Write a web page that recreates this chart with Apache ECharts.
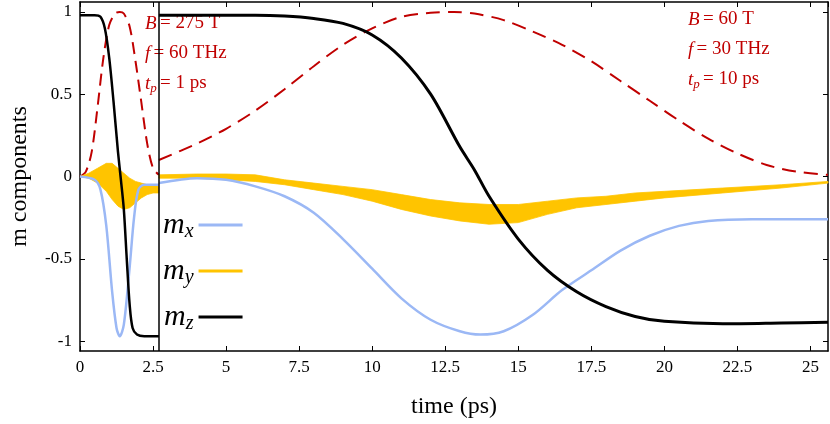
<!DOCTYPE html>
<html><head><meta charset="utf-8">
<script src="https://cdn.jsdelivr.net/npm/echarts@6/dist/echarts.min.js"></script>
<style>html,body{margin:0;padding:0;background:#fff}#c{width:830px;height:424px}</style>
</head><body><div id="c"></div>
<script>
// main run (B = 60 T), shown for t >= 2.7 ps
var mainT   = [2.7,4,5,6,7,8,9,10,11,12,12.8,13.5,14.5,15.5,16.5,17.5,18.5,19.5,20.5,21.5,22.5,23.5,24.5,25.6]
var mainPulse=[0.1,0.2,0.29,0.4,0.53,0.67,0.8,0.9,0.97,0.995,1.0,0.99,0.95,0.88,0.8,0.7,0.58,0.46,0.34,0.23,0.14,0.07,0.03,0.01]
var mxT = [2.7,4,5,6,7,8,9,10,11,12,13,13.7,14.5,15.5,16.5,17.5,18.5,19.5,20.5,21.5,23,25.6]
var mxV = [-0.04,-0.01,-0.02,-0.06,-0.12,-0.22,-0.38,-0.56,-0.74,-0.87,-0.94,-0.96,-0.94,-0.84,-0.69,-0.57,-0.45,-0.36,-0.3,-0.27,-0.26,-0.26]
var mzT = [2.7,6,7,8,9,10,11,12,13,13.5,14,15,16,17,18,19,20,22,24,25.6]
var mzV = [0.98,0.98,0.975,0.96,0.93,0.86,0.72,0.5,0.18,0.04,-0.12,-0.38,-0.57,-0.7,-0.79,-0.85,-0.88,-0.895,-0.89,-0.885]
var myT  = [2.7,4,5,6,7,8,9,10,11,12,13,14,15,16,17,18,19,20,22,24,25.6]
var myLo = [-0.01,-0.01,-0.02,-0.03,-0.05,-0.08,-0.11,-0.15,-0.2,-0.24,-0.27,-0.29,-0.28,-0.23,-0.19,-0.17,-0.15,-0.13,-0.1,-0.07,-0.04]
var myHi = [0.01,0.015,0.015,0.01,-0.02,-0.04,-0.06,-0.08,-0.11,-0.14,-0.16,-0.17,-0.17,-0.15,-0.13,-0.12,-0.1,-0.09,-0.07,-0.05,-0.03]

// inset run (B = 275 T), 0 - 2.7 ps
var inPulseT = [0,0.2,0.4,0.6,0.8,1.0,1.2,1.36,1.5,1.7,1.9,2.1,2.3,2.5,2.7]
var inPulseV = [0,0.03,0.15,0.42,0.72,0.92,0.99,1,0.99,0.91,0.7,0.45,0.2,0.05,0.01]
var inMxT = [0,0.5,0.7,0.9,1.1,1.25,1.36,1.5,1.7,1.85,2.0,2.2,2.7]
var inMxV = [0,-0.02,-0.08,-0.3,-0.7,-0.92,-0.97,-0.9,-0.55,-0.25,-0.08,-0.05,-0.05]
var inMzT = [0,0.5,0.7,0.85,1.0,1.15,1.3,1.4,1.5,1.6,1.7,1.8,1.95,2.2,2.7]
var inMzV = [0.98,0.98,0.97,0.9,0.72,0.45,0.15,-0.02,-0.2,-0.5,-0.78,-0.92,-0.96,-0.97,-0.97]
var inMyT  = [0,0.3,0.6,0.9,1.1,1.3,1.5,1.7,1.9,2.1,2.3,2.5,2.7]
var inMyLo = [0,-0.01,-0.04,-0.09,-0.14,-0.18,-0.2,-0.19,-0.16,-0.13,-0.11,-0.1,-0.1]
var inMyHi = [0,0.02,0.05,0.08,0.08,0.05,0.02,-0.01,-0.03,-0.04,-0.05,-0.05,-0.06]

var yTicks = [-1,-0.5,0,0.5,1]

var RED='#c00000', BLUE='#9bb8f5', GOLD='#ffc400', SERIF='"Liberation Serif","DejaVu Serif",serif'

function zip(t,v){ return t.map(function(x,i){return [x,v[i]]}) }
// filled band between lo and hi, drawn as one polygon through the axes
function band(t,lo,hi,name){
    return {
        name:name,type:'custom',color:GOLD,z:3,
        data:t.map(function(x,i){return [x,lo[i],hi[i]]}),
        encode:{x:0,y:[1,2]},
        renderItem:function(params,api){
            if(params.dataIndex!==0) return
            var top=[],bot=[]
            for(var i=0;i<t.length;i++){
                top.push(api.coord([t[i],hi[i]]))
                bot.unshift(api.coord([t[i],lo[i]]))
            }
            return {type:'polygon',shape:{points:top.concat(bot)},style:{fill:GOLD,stroke:GOLD,lineWidth:0.8}}
        }
    }
}

var chart=echarts.init(document.getElementById('c'))
var series=[
    {type:'line',data:zip(mainT,mainPulse),symbol:'none',smooth:0.3,lineStyle:{color:RED,width:2,type:[14,8]},z:2},
    {name:'mx',type:'line',data:zip(mxT,mxV),symbol:'none',smooth:0.3,color:BLUE,lineStyle:{color:BLUE,width:2.5},z:4},
    band(myT,myLo,myHi,'my'),
    {name:'mz',type:'line',data:zip(mzT,mzV),symbol:'none',smooth:0.3,color:'#000',lineStyle:{color:'#000',width:3},z:5},
    {type:'line',data:zip(inPulseT,inPulseV),symbol:'none',smooth:0.3,lineStyle:{color:RED,width:2,type:[12,7]},z:2},
    {type:'line',data:zip(inMxT,inMxV),symbol:'none',smooth:0.3,lineStyle:{color:BLUE,width:2.5},z:4},
    band(inMyT,inMyLo,inMyHi),
    {type:'line',data:zip(inMzT,inMzV),symbol:'none',smooth:0.3,lineStyle:{color:'#000',width:2.5},z:5,
     markLine:{symbol:'none',silent:true,label:{show:false},lineStyle:{color:'#000',width:1.5,type:'solid'},data:[{xAxis:2.7}]}}
]

var axisBase={axisLine:{show:true,onZero:false,lineStyle:{color:'#000',width:1.5}},
    axisTick:{show:true,inside:true,length:5,lineStyle:{color:'#000'}},splitLine:{show:false}}

chart.setOption({
    animation:false,
    grid:{left:75,right:2,top:2,bottom:66},
    legend:{orient:'vertical',left:158,top:205,itemGap:14,align:'right',itemWidth:44,itemHeight:3,
        data:[{name:'mx',icon:'rect'},{name:'my',icon:'rect',itemStyle:{color:GOLD}},{name:'mz',icon:'rect'}],
        formatter:function(n){return '{m|m}{s|'+n.charAt(1)+'}'},
        textStyle:{rich:{m:{fontFamily:SERIF,fontStyle:'italic',fontSize:30,color:'#000'},
            s:{fontFamily:SERIF,fontStyle:'italic',fontSize:20,color:'#000',verticalAlign:'bottom',padding:[14,0,0,0]}}}},
    xAxis:[Object.assign({type:'value',min:0,max:25.6,interval:2.5,
        name:'time (ps)',nameLocation:'middle',nameGap:44,nameTextStyle:{fontFamily:SERIF,fontSize:24,color:'#000'},
        axisLabel:{fontFamily:SERIF,fontSize:17,color:'#000',margin:8}},axisBase),
        Object.assign({type:'value',position:'top',min:0,max:25.6,interval:2.5,axisLabel:{show:false}},axisBase)],
    yAxis:[Object.assign({type:'value',min:-1.06,max:1.06,
        name:'m components',nameLocation:'middle',nameGap:48,nameTextStyle:{fontFamily:SERIF,fontSize:24,color:'#000'},
        axisLabel:{fontFamily:SERIF,fontSize:17,color:'#000',customValues:yTicks,formatter:function(v){return String(v)}}},axisBase,
        {axisTick:{show:true,inside:true,length:5,customValues:yTicks,lineStyle:{color:'#000'}}}),
        Object.assign({type:'value',position:'right',min:-1.06,max:1.06,axisLabel:{show:false}},axisBase,
        {axisTick:{show:true,inside:true,length:5,customValues:yTicks,lineStyle:{color:'#000'}}})],
    series:series,
    graphic:[
        {type:'text',left:145,top:14,style:{rich:{i:{fontFamily:SERIF,fontStyle:'italic',fontSize:19,fill:RED},n:{fontFamily:SERIF,fontSize:19,fill:RED}},text:'{i|B} {n|= 275 T}'}},
        {type:'text',left:145,top:44,style:{rich:{i:{fontFamily:SERIF,fontStyle:'italic',fontSize:19,fill:RED},n:{fontFamily:SERIF,fontSize:19,fill:RED}},text:'{i|f} {n|= 60 THz}'}},
        {type:'text',left:145,top:74,style:{rich:{i:{fontFamily:SERIF,fontStyle:'italic',fontSize:19,fill:RED},s:{fontFamily:SERIF,fontStyle:'italic',fontSize:13,fill:RED,padding:[10,0,0,0]},n:{fontFamily:SERIF,fontSize:19,fill:RED}},text:'{i|t}{s|p} {n|= 1 ps}'}},
        {type:'text',left:688,top:10,style:{rich:{i:{fontFamily:SERIF,fontStyle:'italic',fontSize:19,fill:RED},n:{fontFamily:SERIF,fontSize:19,fill:RED}},text:'{i|B} {n|= 60 T}'}},
        {type:'text',left:688,top:40,style:{rich:{i:{fontFamily:SERIF,fontStyle:'italic',fontSize:19,fill:RED},n:{fontFamily:SERIF,fontSize:19,fill:RED}},text:'{i|f} {n|= 30 THz}'}},
        {type:'text',left:688,top:70,style:{rich:{i:{fontFamily:SERIF,fontStyle:'italic',fontSize:19,fill:RED},s:{fontFamily:SERIF,fontStyle:'italic',fontSize:13,fill:RED,padding:[10,0,0,0]},n:{fontFamily:SERIF,fontSize:19,fill:RED}},text:'{i|t}{s|p} {n|= 10 ps}'}}
    ]
})
</script></body></html>
